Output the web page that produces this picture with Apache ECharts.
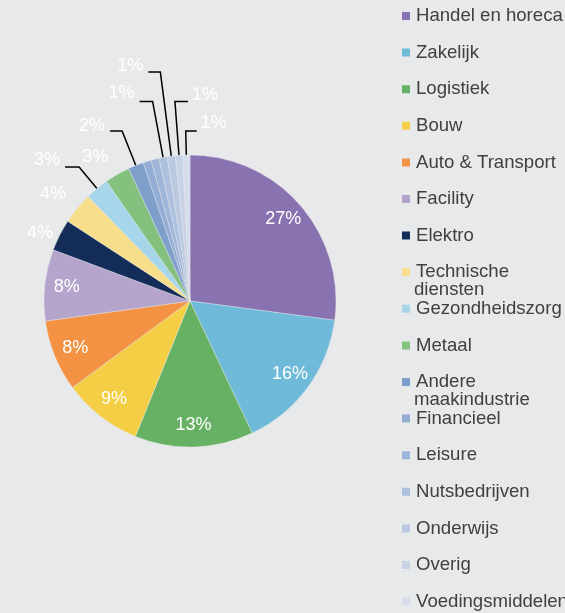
<!DOCTYPE html>
<html>
<head>
<meta charset="utf-8">
<script src="https://cdn.jsdelivr.net/npm/echarts@6/dist/echarts.min.js"></script>
<style>
html, body { margin: 0; padding: 0; background: #e8e9eb; }
#main { width: 565px; height: 613px; }
</style>
</head>
<body>
<div id="main"></div>
<script>
// sectors, in legend order
var sectors = ['Handel en horeca', 'Zakelijk', 'Logistiek', 'Bouw', 'Auto & Transport', 'Facility',
  'Elektro', 'Technische diensten', 'Gezondheidszorg', 'Metaal', 'Andere maakindustrie',
  'Financieel', 'Leisure', 'Nutsbedrijven', 'Onderwijs', 'Overig', 'Voedingsmiddelen'];
// share in %
var shares = [27.1, 15.9, 13.1, 8.8, 7.9, 7.9, 3.5, 3.5, 2.6, 2.8, 1.7, 0.9, 0.9, 0.9, 0.9, 0.8, 0.8];
var colors = ['#8872b0', '#6fbad9', '#66b163', '#f4ce44', '#f39243', '#b5a5cc', '#132d58', '#f7de8a',
  '#a7d6ea', '#84c17f', '#7f9fcb', '#93add4', '#a0b6d8', '#adc0dd', '#bac9e2', '#c7d2e7', '#d5ddee'];

// big slices get their label inside
var insideCount = 6;
// small slices: [radial line length, horizontal length, show line, lift, right side]
var outsideLabels = {
  6: [2, 0, false, 1, false],
  7: [8, 0, false, 9, false],
  8: [28, 14, true, 7, false],
  9: [8, 0, false, 10, false],
  10: [37, 12, true, 5, false],
  13: [57, 13, true, 8, false],
  14: [85, 12, true, 6, false],
  15: [54, 13, true, 7, true],
  16: [24, 11, true, 8, true]
};

var font = '"Liberation Sans", Arial, sans-serif';
var CX = 190, CY = 301, R = 146;

function pct(p) { return Math.round(p.percent) + '%'; }

var pieData = sectors.map(function (name, i) {
  var cfg = outsideLabels[i];
  var item = { name: name, value: shares[i], itemStyle: { color: colors[i] } };
  if (cfg) {
    item.label = { show: true };
    item.labelLine = { show: cfg[2], length: cfg[0], length2: cfg[1] };
  } else {
    item.label = { show: false };
    item.labelLine = { show: false };
  }
  return item;
});

var ringData = sectors.map(function (name, i) {
  return { name: name, value: shares[i], label: { show: i < insideCount } };
});

var legendTopFirst = 14, legendStep = 36.6;
var legends = sectors.map(function (name, i) {
  return {
    data: [name],
    left: 400,
    top: legendTopFirst + legendStep * i - 7.5,
    padding: 0,
    icon: 'rect',
    itemWidth: 10,
    itemHeight: 10,
    selectedMode: false,
    formatter: function (n) { return n === 'Technische diensten' ? 'Technische' : (n === 'Andere maakindustrie' ? 'Andere' : n); },
    textStyle: { fontSize: 18.6, color: '#404040', fontFamily: font }
  };
});

var wrapped = { 7: 'diensten', 10: 'maakindustrie' };
var graphics = Object.keys(wrapped).map(function (k) {
  return {
    type: 'text',
    x: 414,
    y: legendTopFirst + legendStep * Number(k) + 20,
    silent: true,
    style: { text: wrapped[k], fill: '#404040', font: '18.6px ' + font, verticalAlign: 'middle' }
  };
});

var myChart = echarts.init(document.getElementById('main'));
var option = {
  backgroundColor: '#e8e9eb',
  animation: false,
  legend: legends,
  graphic: graphics,
  series: [{
    type: 'pie',
    center: [CX, CY],
    radius: R,
    startAngle: 90,
    clockwise: true,
    avoidLabelOverlap: false,
    itemStyle: { borderColor: '#e8e9eb', borderWidth: 0.4 },
    label: {
      position: 'outside',
      formatter: pct,
      color: '#ffffff',
      fontSize: 18,
      fontFamily: font,
      distanceToLabelLine: 5
    },
    labelLine: { lineStyle: { color: '#000000', width: 1.5 } },
    labelLayout: function (p) {
      var cfg = outsideLabels[p.dataIndex];
      if (!cfg) return {};
      var pts = p.labelLinePoints;
      if (cfg[4] && pts) {
        var a = pts[1];
        return {
          x: a[0] + cfg[1] + 4,
          y: a[1] - cfg[3],
          align: 'left',
          labelLinePoints: [pts[0], a, [a[0] + cfg[1], a[1]]]
        };
      }
      var out = { dy: -cfg[3] };
      if (pts) out.labelLinePoints = pts;
      return out;
    },
    emphasis: { disabled: true },
    data: pieData
  }, {
    type: 'pie',
    center: [CX, CY],
    radius: [96, R],
    startAngle: 90,
    clockwise: true,
    silent: true,
    itemStyle: { color: 'rgba(0,0,0,0)' },
    label: {
      position: 'inside',
      formatter: pct,
      color: '#ffffff',
      fontSize: 18,
      fontFamily: font
    },
    labelLine: { show: false },
    emphasis: { disabled: true },
    data: ringData
  }]
};
myChart.setOption(option);
</script>
</body>
</html>
